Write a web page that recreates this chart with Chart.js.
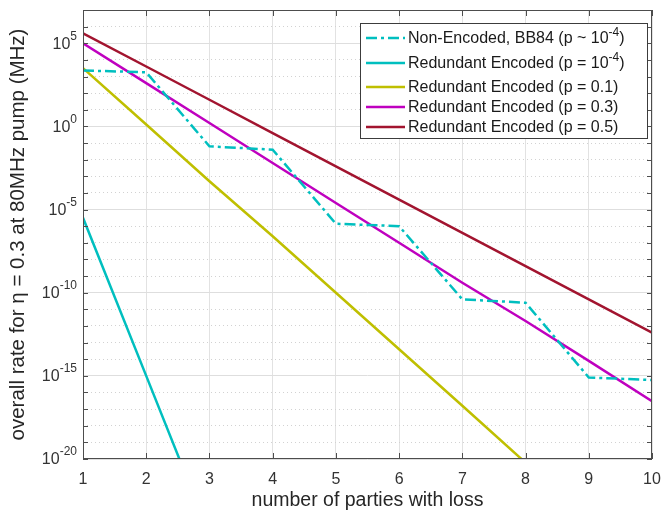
<!DOCTYPE html>
<html>
<head>
<meta charset="utf-8">
<script src="https://cdn.jsdelivr.net/npm/chart.js@4.4.0/dist/chart.umd.min.js"></script>
<style>
  html, body { margin: 0; padding: 0; background: #fff; }
  #wrap { width: 662px; height: 510px; }
</style>
</head>
<body>
<div id="wrap"><canvas id="rateChart" width="662" height="510"></canvas></div>
<script>
// number of parties with loss
const parties = [1, 2, 3, 4, 5, 6, 7, 8, 9, 10];

// overall rate (MHz)
const nonEncoded   = [2.3e3, 1.8e3, 6.3e-2, 4.0e-2, 1.4e-6, 1.0e-6, 4.0e-11, 2.5e-11, 8.0e-16, 5.6e-16];
const redundant1e4 = [3.2e-6, 1.0e-15, 3.0e-25];
const redundant01  = [3.2e3, 1.3e0, 5.0e-4, 2.5e-7, 1.0e-10, 4.0e-14, 1.6e-17, 6.0e-21];
const redundant03  = [1.0e5, 4.0e2, 1.6e0, 6.3e-3, 2.5e-5, 1.0e-7, 4.0e-10, 2.0e-12, 8.0e-15, 3.0e-17];
const redundant05  = [4.0e5, 4.0e3, 4.0e1, 4.0e-1, 4.0e-3, 4.0e-5, 4.0e-7, 4.0e-9, 4.0e-11, 4.0e-13];

const seriesLabels = [
    'Non-Encoded, BB84 (p ~ 10^-4)',
    'Redundant Encoded (p = 10^-4)',
    'Redundant Encoded (p = 0.1)',
    'Redundant Encoded (p = 0.3)',
    'Redundant Encoded (p = 0.5)'
];

// y ticks: one per decade, labels every 5 decades
const labeledExponents = [-20, -15, -10, -5, 0, 5];
const yMinExp = -20, yMaxExp = 7;

const FONT = '"Liberation Sans", Arial, Helvetica, sans-serif';
const frameColor = '#4d4d4d';

function points(values) {
    return values.map((v, i) => ({ x: parties[i], y: v }));
}

function isMajor(value) {
    const e = Math.round(Math.log10(value));
    return labeledExponents.includes(e);
}

// text with ^exp parts drawn as superscripts
function drawRich(ctx, text, x, y, size) {
    const parts = text.split(/\^(-?\d+)/);
    ctx.textAlign = 'left';
    ctx.textBaseline = 'middle';
    parts.forEach((p, i) => {
        if (i % 2 === 1) {
            ctx.font = Math.round(size * 0.72) + 'px ' + FONT;
            ctx.fillText(p, x, y - size * 0.42);
        } else {
            ctx.font = size + 'px ' + FONT;
            ctx.fillText(p, x, y);
        }
        x += ctx.measureText(p).width;
    });
}

const decor = {
    id: 'decor',
    afterDatasetsDraw(chart) {
        const { ctx, chartArea: a, scales: { x, y } } = chart;
        ctx.save();
        // box + inward ticks
        ctx.strokeStyle = frameColor;
        ctx.lineWidth = 1;
        ctx.strokeRect(a.left + 0.5, a.top + 0.5, a.right - a.left - 1, a.bottom - a.top - 1);
        ctx.beginPath();
        parties.forEach(p => {
            const px = Math.round(x.getPixelForValue(p)) + 0.5;
            ctx.moveTo(px, a.bottom); ctx.lineTo(px, a.bottom - 6);
            ctx.moveTo(px, a.top); ctx.lineTo(px, a.top + 6);
        });
        for (let e = yMinExp; e <= yMaxExp; e++) {
            const py = Math.round(y.getPixelForValue(Math.pow(10, e))) + 0.5;
            ctx.moveTo(a.left, py); ctx.lineTo(a.left + 5, py);
            ctx.moveTo(a.right, py); ctx.lineTo(a.right - 5, py);
        }
        ctx.stroke();

        // y tick labels 10^n
        ctx.fillStyle = '#333';
        labeledExponents.forEach(e => {
            const py = y.getPixelForValue(Math.pow(10, e));
            const exp = String(e);
            ctx.font = '12px ' + FONT;
            const ew = ctx.measureText(exp).width;
            ctx.font = '16px ' + FONT;
            const bw = ctx.measureText('10').width;
            const right = a.left - 6;
            ctx.textAlign = 'left';
            ctx.textBaseline = 'middle';
            ctx.fillText('10', right - ew - bw, py + 1);
            ctx.font = '12px ' + FONT;
            ctx.fillText(exp, right - ew, py - 7);
        });

        // legend
        const bw2 = 288, bh = 116;
        const bx = a.right - 4 - bw2, by = a.top + 13;
        ctx.fillStyle = '#fff';
        ctx.fillRect(bx, by, bw2, bh);
        ctx.strokeStyle = '#3c3c3c';
        ctx.strokeRect(bx + 0.5, by + 0.5, bw2 - 1, bh - 1);
        const rowY = [15, 40, 64, 84, 104];
        chart.data.datasets.forEach((ds, i) => {
            const ly = by + rowY[i];
            ctx.beginPath();
            ctx.strokeStyle = ds.borderColor;
            ctx.lineWidth = ds.borderWidth;
            ctx.setLineDash(ds.borderDash || []);
            ctx.moveTo(bx + 6, ly);
            ctx.lineTo(bx + 45, ly);
            ctx.stroke();
            ctx.setLineDash([]);
            ctx.fillStyle = '#1a1a1a';
            drawRich(ctx, ds.label, bx + 48, ly + 1, 16);
        });
        ctx.restore();
    }
};

const lineStyle = { borderWidth: 2.5, pointRadius: 0, tension: 0, fill: false, clip: 0 };

const config = {
    type: 'line',
    data: {
        datasets: [
            { label: seriesLabels[0], data: points(nonEncoded), borderColor: 'rgb(0,191,191)', borderDash: [11, 4, 3, 4], ...lineStyle },
            { label: seriesLabels[1], data: points(redundant1e4), borderColor: 'rgb(0,191,191)', ...lineStyle },
            { label: seriesLabels[2], data: points(redundant01), borderColor: 'rgb(191,191,0)', ...lineStyle },
            { label: seriesLabels[3], data: points(redundant03), borderColor: 'rgb(191,0,191)', ...lineStyle },
            { label: seriesLabels[4], data: points(redundant05), borderColor: 'rgb(162,20,47)', ...lineStyle }
        ]
    },
    options: {
        responsive: false,
        animation: false,
        devicePixelRatio: 1,
        layout: { padding: { left: 0, right: 0, top: 10, bottom: 0 } },
        plugins: { legend: { display: false }, tooltip: { enabled: false } },
        scales: {
            x: {
                type: 'linear',
                min: 1,
                max: 10,
                afterFit: s => { s.height = 51; s.paddingRight = 10; },
                afterBuildTicks: s => { s.ticks = parties.map(p => ({ value: p })); },
                ticks: { font: { size: 16, family: FONT }, color: '#333', padding: 11, maxRotation: 0 },
                grid: { color: '#e2e2e2', drawTicks: false },
                border: { display: false },
                title: {
                    display: true,
                    text: 'number of parties with loss',
                    font: { size: 19.5, family: FONT, lineHeight: 0.95 },
                    color: '#262626',
                    padding: { top: 0, bottom: 0 }
                }
            },
            y: {
                type: 'logarithmic',
                min: Math.pow(10, yMinExp),
                max: Math.pow(10, yMaxExp),
                afterFit: s => { s.width = 83; },
                afterBuildTicks: s => {
                    const t = [];
                    for (let e = yMinExp; e <= yMaxExp; e++) t.push({ value: Math.pow(10, e) });
                    s.ticks = t;
                },
                ticks: { display: false, autoSkip: false },
                grid: {
                    drawTicks: false,
                    color: c => (c.tick && isMajor(c.tick.value)) ? '#dedede' : '#d2d2d2'
                },
                border: {
                    display: false,
                    dash: c => (c.tick && !isMajor(c.tick.value)) ? [1, 3] : []
                },
                title: {
                    display: true,
                    text: 'overall rate for η = 0.3 at 80MHz pump (MHz)',
                    font: { size: 20.5, family: FONT, lineHeight: 1 },
                    color: '#262626',
                    padding: { top: 8, bottom: 0 }
                }
            }
        }
    },
    plugins: [decor]
};

const rateChart = new Chart(document.getElementById('rateChart'), config);
</script>
</body>
</html>
